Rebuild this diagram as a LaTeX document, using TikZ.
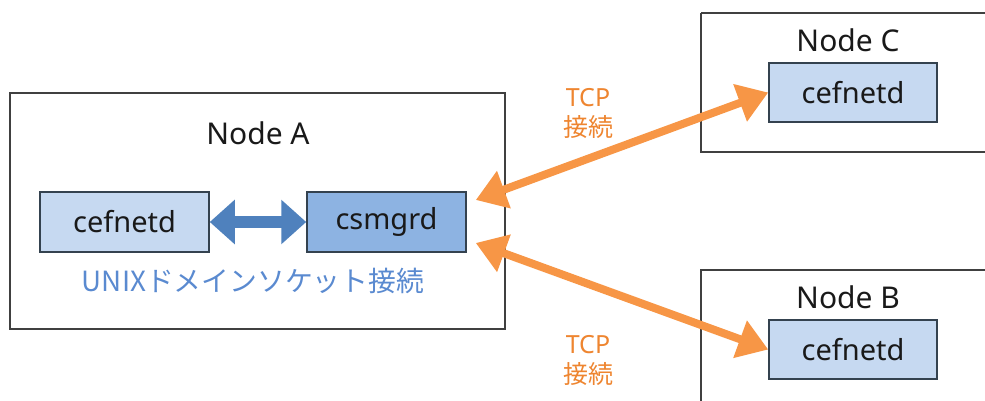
\documentclass[tikz,border=0pt]{standalone}
\usepackage{fontspec}
\setmainfont{Noto Sans}
\newfontfamily\jpfont{Noto Sans CJK JP}
\usetikzlibrary{arrows.meta}

\definecolor{procfill}{HTML}{C6D9F1}
\definecolor{mgrfill}{HTML}{8DB3E2}
\definecolor{procline}{HTML}{34424F}
\definecolor{hostline}{HTML}{404040}
\definecolor{unixblue}{HTML}{4F81BD}
\definecolor{unixtext}{HTML}{5A8AD0}
\definecolor{tcporange}{HTML}{F79646}
\definecolor{tcptext}{HTML}{EE8530}

\tikzset{
  hostbox/.style={draw=hostline, line width=1.3pt},
  hostlabel/.style={font=\fontsize{30}{34}\selectfont, text=black!90, inner sep=0pt},
  procbox/.style={draw=procline, line width=1.5pt, fill=procfill,
    minimum width=168pt, minimum height=59pt, inner sep=0pt,
    font=\fontsize{29}{33}\selectfont, text=black!90},
  mgrbox/.style={procbox, fill=mgrfill, minimum width=159pt},
  unixlink/.style={draw=unixblue, line width=12pt,
    {Triangle[length=25pt,width=43pt]}-{Triangle[length=25pt,width=43pt]}},
  tcplink/.style={draw=tcporange, line width=8pt,
    {Triangle[length=30pt,width=38pt]}-{Triangle[length=30pt,width=38pt]}},
  tcplabel/.style={text=tcptext, align=center, inner sep=0pt,
    font=\fontsize{25}{30}\selectfont},
}

\begin{document}
\begin{tikzpicture}[x=1pt, y=-1pt]
  \useasboundingbox (0,0) rectangle (985,401);

  % host frames
  \draw[hostbox] (10,93) rectangle (505,329);
  \draw[hostbox] (701,13) -- (990,13) (701,13) -- (701,152) -- (990,152);
  \draw[hostbox] (990,270) -- (701,270) -- (701,410);

  % host names
  \node[hostlabel] (labA) at (258,133) {Node A};
  \node[hostlabel] (labC) at (848,40) {Node C};
  \node[hostlabel] (labB) at (848,297) {Node B};

  % processes
  \node[procbox, minimum width=169pt, minimum height=60pt] (cefA) at (124.5,222) {cefnetd};
  \node[mgrbox, minimum height=60pt] (csm) at (386.5,222) {csmgrd};
  \node[procbox] (cefC) at (853,92.5) {cefnetd};
  \node[procbox] (cefB) at (853,349.5) {cefnetd};

  % local UNIX-domain socket
  \draw[unixlink] (cefA.east) -- (csm.west);
  \node[text=unixtext, inner sep=0pt, font=\jpfont\fontsize{27.8}{32}\selectfont]
    (unixlab) at (253,281) {UNIXドメインソケット接続};

  % TCP connections to the remote cefnetd
  \coordinate (csmUp) at ([xshift=9pt, yshift=22pt]csm.east);
  \coordinate (csmDn) at ([xshift=9pt, yshift=-21pt]csm.east);
  \draw[tcplink] (csmUp) -- (cefC.west);
  \draw[tcplink] (csmDn) -- (cefB.west);

  \node[tcplabel] (tcpC) at (588,98) {TCP};
  \node[tcplabel] (tcpCj) at (588,127) {\jpfont 接続};
  \node[tcplabel] (tcpB) at (588,345) {TCP};
  \node[tcplabel] (tcpBj) at (588,374) {\jpfont 接続};
\end{tikzpicture}
\end{document}
